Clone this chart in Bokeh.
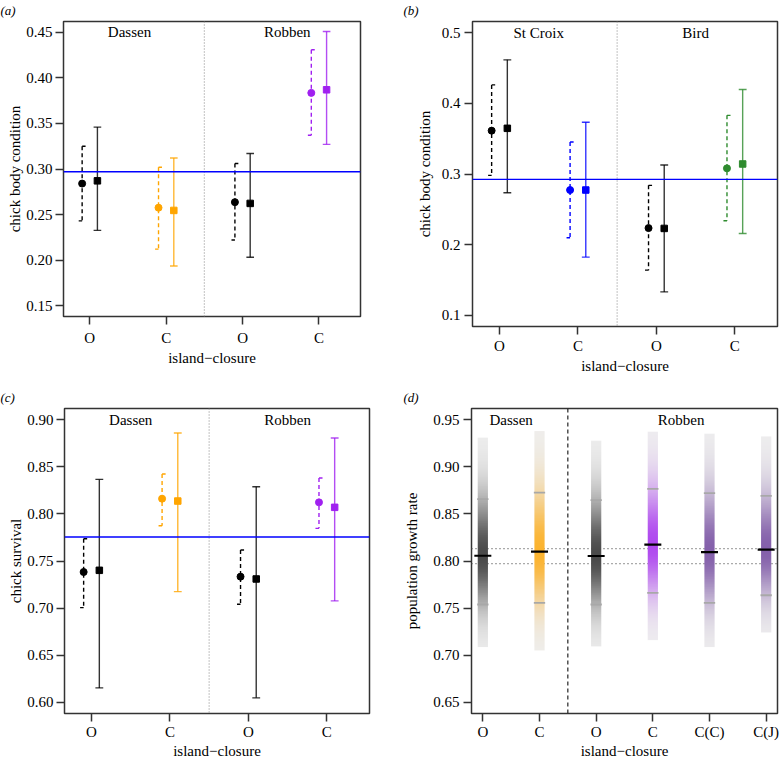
import numpy as np
from bokeh.plotting import figure
from bokeh.layouts import row, column
from bokeh.models import FixedTicker, Span, Range1d, ColumnDataSource
from bokeh.core.properties import value, field
from bokeh.embed import file_html
from bokeh.resources import INLINE

FONT = "Liberation Serif"

# ---------------- data ----------------
cats_abc = ["O", "C", "O", "C"]
cats_d = ["O", "C", "O", "C", "C(C)", "C(J)"]

# panel (a): chick body condition, Dassen / Robben
a_islands = ["Dassen", "Robben"]
a_colors = ["black", "orange", "black", "#A020F0"]
a_circ = [0.284, 0.2575, 0.2636, 0.3836]
a_circ_lo = [0.243, 0.212, 0.222, 0.337]
a_circ_hi = [0.325, 0.302, 0.306, 0.431]
a_sq = [0.287, 0.2545, 0.2622, 0.387]
a_sq_lo = [0.2326, 0.1934, 0.203, 0.327]
a_sq_hi = [0.346, 0.312, 0.317, 0.451]
a_mean = 0.297
a_yticks = [0.15, 0.20, 0.25, 0.30, 0.35, 0.40, 0.45]

# panel (b): chick body condition, St Croix / Bird
b_islands = ["St Croix", "Bird"]
b_colors = ["black", "#0000FF", "black", "#2E8B2E"]
b_circ = [0.3614, 0.2773, 0.2234, 0.308]
b_circ_lo = [0.298, 0.2097, 0.1638, 0.2338]
b_circ_hi = [0.4262, 0.3454, 0.2839, 0.3831]
b_sq = [0.3647, 0.2773, 0.2229, 0.3142]
b_sq_lo = [0.2735, 0.1823, 0.133, 0.2157]
b_sq_hi = [0.4617, 0.3732, 0.3128, 0.4196]
b_mean = 0.2923
b_yticks = [0.1, 0.2, 0.3, 0.4, 0.5]

# panel (c): chick survival
c_islands = ["Dassen", "Robben"]
c_colors = ["black", "orange", "black", "#A020F0"]
c_circ = [0.7383, 0.8162, 0.7334, 0.8123]
c_circ_lo = [0.7005, 0.7875, 0.704, 0.7847]
c_circ_hi = [0.7737, 0.8424, 0.7617, 0.8381]
c_sq = [0.7401, 0.8137, 0.7309, 0.807]
c_sq_lo = [0.6152, 0.7175, 0.6046, 0.7076]
c_sq_hi = [0.8367, 0.8859, 0.8289, 0.8806]
c_mean = 0.7755
c_yticks = [0.60, 0.65, 0.70, 0.75, 0.80, 0.85, 0.90]

# panel (d): population growth rate
d_islands = ["Dassen", "Robben"]
d_colors = ["#222222", "#FFA500", "#222222", "#A020F0", "#6A3D9A", "#6A3D9A"]
d_med = [0.8056, 0.8099, 0.8053, 0.8173, 0.8095, 0.812]
d_ci_lo = [0.7538, 0.7555, 0.7538, 0.7661, 0.7555, 0.7636]
d_ci_hi = [0.8657, 0.8727, 0.8646, 0.8766, 0.872, 0.8692]
d_rng_lo = [0.7086, 0.705, 0.7093, 0.716, 0.7086, 0.7241]
d_rng_hi = [0.931, 0.938, 0.9278, 0.9373, 0.9352, 0.9323]
d_ref = [0.8131, 0.7972]
d_yticks = [0.65, 0.70, 0.75, 0.80, 0.85, 0.90, 0.95]


def make_fig(width, height, xr, yr, borders, yticks, yfmt, xlabels, ylabel, ystand, xstand,
             letter, letter_offset):
    bl, br, bt, bb = borders
    p = figure(width=width, height=height, x_range=Range1d(*xr), y_range=Range1d(*yr),
               output_backend="svg", toolbar_location=None, frame_align=False,
               min_border_left=bl, min_border_right=br, min_border_top=bt, min_border_bottom=bb)
    p.xgrid.visible = False
    p.ygrid.visible = False
    p.background_fill_color = "white"
    p.border_fill_color = "white"
    p.outline_line_color = "#333333"
    p.outline_line_width = 1.5
    p.outline_line_alpha = 1
    xt = list(range(1, len(xlabels) + 1))
    p.xaxis.ticker = FixedTicker(ticks=xt)
    p.xaxis.major_label_overrides = {t: l for t, l in zip(xt, xlabels)}
    p.yaxis.ticker = FixedTicker(ticks=yticks)
    p.yaxis.major_label_overrides = {t: yfmt % t for t in yticks}
    p.xaxis.axis_label = "island\u2212closure"
    p.yaxis.axis_label = ylabel
    for ax in (p.xaxis[0], p.yaxis[0]):
        ax.axis_line_color = None
        ax.major_tick_out = 8
        ax.major_tick_in = 0
        ax.minor_tick_line_color = None
        ax.major_tick_line_color = "#333333"
        ax.major_tick_line_width = 1.5
        ax.major_label_text_font = FONT
        ax.major_label_text_font_size = "15px"
        ax.major_label_text_color = "black"
        ax.axis_label_text_font = FONT
        ax.axis_label_text_font_size = "15px"
        ax.axis_label_text_font_style = "normal"
        ax.axis_label_text_color = "black"
    p.xaxis.major_label_standoff = xstand[0]
    p.xaxis.axis_label_standoff = xstand[1]
    p.yaxis.major_label_standoff = ystand[0]
    p.yaxis.axis_label_standoff = ystand[1]
    p.yaxis.major_label_orientation = "horizontal"
    p.title.text = letter
    p.title.align = "left"
    p.title.vertical_align = "top"
    p.title.offset = letter_offset
    p.title.standoff = 4
    p.title.text_font = FONT
    p.title.text_font_size = "13px"
    p.title.text_font_style = "italic"
    p.title.text_color = "black"
    return p


def errbar_panel(width, height, borders, yr, yticks, yfmt, ylabel, ystand, xstand, islands,
                 island_x, island_y, colors, circ, circ_lo, circ_hi, sq, sq_lo, sq_hi, mean_line,
                 letter, letter_offset):
    p = make_fig(width, height, (0.656, 4.544), yr, borders, yticks, yfmt, cats_abc, ylabel,
                 ystand, xstand, letter, letter_offset)
    n = len(circ)
    xc = [i + 1 - 0.1 for i in range(n)]
    xs = [i + 1 + 0.1 for i in range(n)]
    p.add_layout(Span(location=2.5, dimension="height", line_color="#9a9a9a",
                      line_dash="1 2", line_width=1.2))
    src_c = ColumnDataSource(dict(x=xc, y=circ, lo=circ_lo, hi=circ_hi, col=colors,
                                  xr=[x + 0.045 for x in xc], xl=[x - 0.045 for x in xc]))
    src_s = ColumnDataSource(dict(x=xs, y=sq, lo=sq_lo, hi=sq_hi, col=colors,
                                  xr=[x + 0.05 for x in xs], xl=[x - 0.05 for x in xs]))
    # dashed interval (circles)
    p.segment(x0="x", y0="hi", x1="x", y1="lo", source=src_c, line_color=field("col"),
              line_width=1.4, line_dash="4 3")
    p.segment(x0="x", y0="hi", x1="xr", y1="hi", source=src_c, line_color=field("col"), line_width=1.4)
    p.segment(x0="xl", y0="lo", x1="x", y1="lo", source=src_c, line_color=field("col"), line_width=1.4)
    # solid interval (squares)
    p.segment(x0="x", y0="lo", x1="x", y1="hi", source=src_s, line_color=field("col"),
              line_width=1.4, line_alpha=0.8)
    p.segment(x0="xl", y0="hi", x1="xr", y1="hi", source=src_s, line_color=field("col"),
              line_width=1.4, line_alpha=0.8)
    p.segment(x0="xl", y0="lo", x1="xr", y1="lo", source=src_s, line_color=field("col"),
              line_width=1.4, line_alpha=0.8)
    p.scatter(x="x", y="y", source=src_c, marker="circle", size=7, fill_color=field("col"),
              line_color=field("col"))
    p.scatter(x="x", y="y", source=src_s, marker="square", size=6.5, fill_color=field("col"),
              line_color=field("col"))
    p.add_layout(Span(location=mean_line, dimension="width", line_color="#0000FF", line_width=1.3))
    p.text(x=island_x, y=[island_y] * len(islands), text=islands, text_font=value(FONT),
           text_font_size="15px", text_align="center", text_baseline="middle", text_color="black")
    return p


# ---- layout (page origin at 0,0) ----
pa = errbar_panel(390, 380, (63, 30, 21, 64), (0.138, 0.462), a_yticks, "%.2f",
                  "chick body condition", (3, 0), (5, 1), a_islands, [1.52, 3.585], 0.45, a_colors,
                  a_circ, a_circ_lo, a_circ_hi, a_sq, a_sq_lo, a_sq_hi, a_mean, "(a)", -63)
pb = errbar_panel(389, 380, (82, 2, 21, 54), (0.084, 0.516), b_yticks, "%.1f",
                  "chick body condition", (4, 6), (3, 1), b_islands, [1.5, 3.5], 0.5, b_colors,
                  b_circ, b_circ_lo, b_circ_hi, b_sq, b_sq_lo, b_sq_hi, b_mean, "(b)", -69)
pc = errbar_panel(390, 382, (64, 21, 28, 49), (0.588, 0.912), c_yticks, "%.2f",
                  "chick survival", (3, 0), (2, 0), c_islands, [1.5, 3.5], 0.9, c_colors,
                  c_circ, c_circ_lo, c_circ_hi, c_sq, c_sq_lo, c_sq_hi, c_mean, "(c)", -64)

# panel d
pd_ = make_fig(389, 382, (0.8, 6.2), (0.638, 0.962), (81, 2, 28, 49), d_yticks, "%.2f",
               cats_d, "population growth rate", (4, 10), (2, 0), "(d)", -68)
for r in d_ref:
    pd_.add_layout(Span(location=r, dimension="width", line_color="#555555", line_dash="1 3",
                        line_width=1.2, level="underlay"))
pd_.add_layout(Span(location=2.5, dimension="height", line_color="#222222", line_dash="4 3",
                    line_width=1.2))


def hex_rgb(h):
    h = h.lstrip("#")
    return np.array([int(h[i:i + 2], 16) for i in (0, 2, 4)], dtype=float)


BAR_W = 0.18
N = 300
imgs, xs_img, ys_img, dhs = [], [], [], []
for i in range(len(d_med)):
    med, lo, hi = d_med[i], d_ci_lo[i], d_ci_hi[i]
    rlo, rhi = d_rng_lo[i], d_rng_hi[i]
    ys = np.linspace(rlo, rhi, N)
    sd_up = (hi - med) / 1.96
    sd_dn = (med - lo) / 1.96
    z = np.where(ys >= med, (ys - med) / sd_up, (med - ys) / sd_dn)
    a = 0.8 * np.exp(-z ** 2 / (2 * 1.96))
    base = np.array([239.0, 239.0, 239.0])
    col = hex_rgb(d_colors[i])
    rgb = base[None, :] * (1 - a[:, None]) + col[None, :] * a[:, None]
    img = np.empty((N, 1), dtype=np.uint32)
    view = img.view(dtype=np.uint8).reshape((N, 1, 4))
    view[:, 0, 0] = np.clip(rgb[:, 0], 0, 255).astype(np.uint8)
    view[:, 0, 1] = np.clip(rgb[:, 1], 0, 255).astype(np.uint8)
    view[:, 0, 2] = np.clip(rgb[:, 2], 0, 255).astype(np.uint8)
    view[:, 0, 3] = 255
    imgs.append(img)
    xs_img.append(i + 1 - BAR_W / 2)
    ys_img.append(rlo)
    dhs.append(rhi - rlo)

pd_.image_rgba(image=imgs, x=xs_img, y=ys_img, dw=[BAR_W] * len(imgs), dh=dhs)

xd = [i + 1 for i in range(len(d_med))]
pd_.segment(x0=[x - 0.1 for x in xd], y0=d_ci_hi, x1=[x + 0.1 for x in xd], y1=d_ci_hi,
            line_color="#A8A8A8", line_width=1.8)
pd_.segment(x0=[x - 0.1 for x in xd], y0=d_ci_lo, x1=[x + 0.1 for x in xd], y1=d_ci_lo,
            line_color="#A8A8A8", line_width=1.8)
pd_.segment(x0=[x - 0.15 for x in xd], y0=d_med, x1=[x + 0.15 for x in xd], y1=d_med,
            line_color="black", line_width=2.2)
pd_.text(x=[1.5, 4.5], y=[0.95, 0.95], text=d_islands, text_font=value(FONT),
         text_font_size="15px", text_align="center", text_baseline="middle", text_color="black")

layout = column(row(pa, pb), row(pc, pd_))
open("out.html", "w").write(file_html(layout, INLINE))
